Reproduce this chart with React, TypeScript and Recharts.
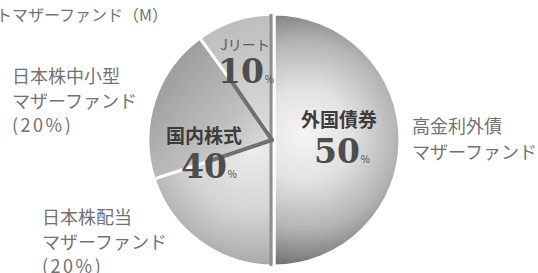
import React from 'react';
import { PieChart, Pie, Cell } from 'recharts';

// ---- data ----
const categories = ['外国債券', '日本株配当', '日本株中小型', 'Jリート'];
const weights = [50, 20, 20, 10];
const outerLabels = [
  ['高金利外債', 'マザーファンド'],
  ['日本株配当', 'マザーファンド', '(20%)'],
  ['日本株中小型', 'マザーファンド', '(20%)'],
  ['Jリートマザーファンド（M）'],
];
const groupNames = ['外国債券', '国内株式', 'Jリート'];
const groupWeights = [50, 40, 10];

// ---- layout / style ----
const W = 538;
const H = 273;
const CX = 274;
const CY = 140;
const R = 126;
const CJK = '"Noto Sans CJK JP", "Noto Sans", sans-serif';
const SERIF = '"DejaVu Serif", "Liberation Serif", serif';

const sliceFills = ['url(#gRight)', 'url(#gLeftLow)', 'url(#gLeftMid)', 'url(#gTop)'];

const outerLayout: Record<string, { dx: number; dy: number; anchor: string; size: number; gap: number }> = {
  '外国債券': { dx: 138, dy: -7, anchor: 'start', size: 18, gap: 26 },
  '日本株配当': { dx: -232, dy: 84, anchor: 'start', size: 18, gap: 24.5 },
  '日本株中小型': { dx: -262, dy: -57, anchor: 'start', size: 18, gap: 24.5 },
  'Jリート': { dx: -106, dy: -119, anchor: 'end', size: 16, gap: 20 },
};

const innerLayout: Record<string, { dx: number; ty: number; nx: number; ny: number; tsize: number; tweight: number; nsize: number }> = {
  '外国債券': { dx: 65, ty: -13, nx: 68, ny: 23, tsize: 19, tweight: 700, nsize: 33 },
  '国内株式': { dx: -70, ty: 3, nx: -65, ny: 38, tsize: 19, tweight: 700, nsize: 33 },
  'Jリート': { dx: -29, ty: -90, nx: -28, ny: -57, tsize: 14, tweight: 400, nsize: 33 },
};

const data = categories.map((name, i) => ({ name, value: weights[i], lines: outerLabels[i] }));
const groups = groupNames.map((name, i) => ({ name, value: groupWeights[i] }));

const RAD = Math.PI / 180;
const polar = (cx: number, cy: number, r: number, a: number) => ({
  x: cx + r * Math.cos(-a * RAD),
  y: cy + r * Math.sin(-a * RAD),
});

function MainLabel(props: any) {
  const { cx, cy, outerRadius, startAngle, endAngle, index, payload } = props;
  const name = categories[index];
  const lay = outerLayout[name];
  const lines: string[] = (payload && payload.lines) || outerLabels[index];
  const parts: React.ReactNode[] = [];
  if (index === 0) {
    [startAngle, endAngle].forEach((a: number, k: number) => {
      const p = polar(cx, cy, outerRadius, a);
      parts.push(
        <line key={'v' + k} x1={cx - 3} y1={cy} x2={p.x - 3} y2={p.y} stroke="#8e8e8e" strokeWidth={3} />
      );
    });
  }
  if (index === 2) {
    [startAngle, endAngle].forEach((a: number, k: number) => {
      const p = polar(cx, cy, outerRadius * 0.56, a);
      parts.push(
        <line key={'d' + k} x1={cx - 2} y1={cy} x2={p.x} y2={p.y} stroke="#707070" strokeWidth={4} strokeLinecap="round" />
      );
    });
  }
  return (
    <g>
      {parts}
      <text
        x={cx + lay.dx}
        y={cy + lay.dy}
        textAnchor={lay.anchor as any}
        fontFamily={CJK}
        fontSize={lay.size}
        fill="#727272"
      >
        {lines.map((l, i) => (
          <tspan
            key={i}
            x={cx + lay.dx}
            dy={i === 0 ? 0 : lay.gap}
            letterSpacing={l.startsWith('(') ? 2.5 : 0}
          >
            {l}
          </tspan>
        ))}
      </text>
    </g>
  );
}

function InnerLabel(props: any) {
  const { cx, cy, index } = props;
  const name = groupNames[index];
  const lay = innerLayout[name];
  return (
    <g>
      <text
        x={cx + lay.dx}
        y={cy + lay.ty}
        textAnchor="middle"
        fontFamily={CJK}
        fontSize={lay.tsize}
        fontWeight={lay.tweight}
        fill={lay.tweight > 500 ? '#3c3c3c' : '#5a5a5a'}
      >
        {name}
      </text>
      <text
        x={cx + lay.nx}
        y={cy + lay.ny}
        textAnchor="middle"
        fontFamily={SERIF}
        fontSize={lay.nsize}
        fontWeight={700}
        fill="#4d4d4d"
      >
        {String(groupWeights[index])}
        <tspan fontSize={10} fontFamily={CJK} fontWeight={400} dx={1}>
          %
        </tspan>
      </text>
    </g>
  );
}

export default function App() {
  return (
    <div style={{ position: 'absolute', left: 0, top: 0, width: W, height: H, background: '#fff' }}>
      <PieChart width={W} height={H} margin={{ top: 0, right: 0, bottom: 0, left: 0 }}>
        <defs>
          <radialGradient id="gRight" gradientUnits="userSpaceOnUse" cx={CX + 30} cy={CY - 5} r={R + 8}>
            <stop offset="0" stopColor="#f4f4f4" />
            <stop offset="0.35" stopColor="#e2e2e2" />
            <stop offset="0.7" stopColor="#b4b4b4" />
            <stop offset="0.9" stopColor="#878787" />
            <stop offset="1" stopColor="#6a6a6a" />
          </radialGradient>
          <radialGradient id="gLeftLow" gradientUnits="userSpaceOnUse" cx={CX - 20} cy={CY + 5} r={R + 10}>
            <stop offset="0" stopColor="#eeeeee" />
            <stop offset="0.5" stopColor="#d4d4d4" />
            <stop offset="0.85" stopColor="#adadad" />
            <stop offset="1" stopColor="#8a8a8a" />
          </radialGradient>
          <linearGradient id="gLeftMid" gradientUnits="userSpaceOnUse" x1={CX - 110} y1={CY - 80} x2={CX} y2={CY + 20}>
            <stop offset="0" stopColor="#999999" />
            <stop offset="0.6" stopColor="#c0c0c0" />
            <stop offset="1" stopColor="#e2e2e2" />
          </linearGradient>
          <linearGradient id="gTop" gradientUnits="userSpaceOnUse" x1={CX - 40} y1={CY - R} x2={CX} y2={CY}>
            <stop offset="0" stopColor="#bbbbbb" />
            <stop offset="1" stopColor="#dedede" />
          </linearGradient>
        </defs>
        <Pie
          data={data}
          dataKey="value"
          nameKey="name"
          cx={CX}
          cy={CY}
          innerRadius={0}
          outerRadius={R}
          startAngle={90}
          endAngle={-270}
          stroke="#ffffff"
          strokeWidth={3}
          labelLine={false}
          label={MainLabel}
          isAnimationActive={false}
        >
          {data.map((d, i) => (
            <Cell key={d.name} fill={sliceFills[i]} />
          ))}
        </Pie>
        <Pie
          data={groups}
          dataKey="value"
          nameKey="name"
          cx={CX}
          cy={CY}
          innerRadius={0}
          outerRadius={R}
          startAngle={90}
          endAngle={-270}
          fill="none"
          stroke="none"
          labelLine={false}
          label={InnerLabel}
          isAnimationActive={false}
        />
      </PieChart>
    </div>
  );
}
